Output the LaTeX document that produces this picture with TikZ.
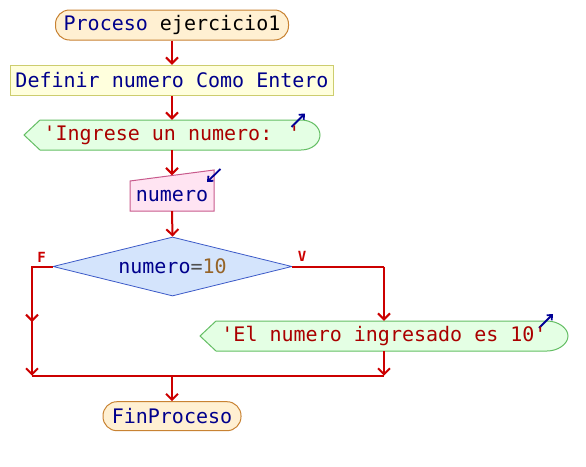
\documentclass[tikz,border=0pt]{standalone}
\usepackage{fontspec}
\newfontfamily\dmono{DejaVu Sans Mono}
\usetikzlibrary{arrows.meta,shapes.geometric}
\definecolor{navytxt}{RGB}{0,0,140}
\definecolor{strtxt}{RGB}{170,0,0}
\definecolor{numtxt}{RGB}{150,100,40}
\definecolor{optxt}{RGB}{80,80,80}
\definecolor{arrred}{RGB}{204,0,0}
\definecolor{startfill}{RGB}{255,240,210}
\definecolor{startline}{RGB}{200,130,50}
\definecolor{deffill}{RGB}{255,255,221}
\definecolor{defline}{RGB}{205,205,110}
\definecolor{outfill}{RGB}{228,255,228}
\definecolor{outline}{RGB}{100,190,100}
\definecolor{infill}{RGB}{255,228,242}
\definecolor{inline}{RGB}{200,90,140}
\definecolor{decfill}{RGB}{212,228,252}
\definecolor{decline}{RGB}{60,90,200}
\definecolor{ioarrow}{RGB}{0,0,150}
\tikzset{
  txt/.style={font=\dmono\fontsize{20}{24}\selectfont, inner sep=0pt},
  startbox/.style={txt, draw=startline, fill=startfill, line width=1pt, rounded corners=14pt},
  defbox/.style={txt, draw=defline, fill=deffill, line width=1pt},
  plain/.style={txt, draw=none},
  decbox/.style={txt, shape=diamond, draw=decline, fill=decfill, line width=0.8pt, minimum width=239pt, minimum height=59pt, aspect=4},
  outshape/.style={draw=outline, fill=outfill, line width=1pt},
  inshape/.style={draw=inline, fill=infill, line width=1pt},
  flow/.style={draw=arrred, line width=2pt},
  arr/.style={flow, -{Straight Barb[length=6pt,width=12pt]}},
  ioarr/.style={draw=ioarrow, line width=1.8pt, -{Straight Barb[length=4pt,width=7pt]}},
  lab/.style={font=\dmono\bfseries\fontsize{14}{16}\selectfont, text=arrred, inner sep=0pt},
}
\begin{document}
\begin{tikzpicture}[x=1pt,y=-1pt]
\useasboundingbox (0,0) rectangle (586,466);
% shapes drawn directly
\path[outshape] (24,135) -- (40,120) -- (301,120) .. controls (312,120) and (320,127) .. (320,135) .. controls (320,143) and (312,150) .. (301,150) -- (40,150) -- cycle;
\path[inshape] (130,181) -- (214,170) -- (214,211) -- (130,211) -- cycle;
\path[outshape] (200,336) -- (216,321) -- (547,321) .. controls (558,321) and (568,328) .. (568,336) .. controls (568,344) and (558,351) .. (547,351) -- (216,351) -- cycle;
% io markers
\draw[ioarr] (291.5,127) -- (305,113.5);
\draw[ioarr] (220.5,169) -- (207,182);
\draw[ioarr] (539,328) -- (553,314);
% nodes
\node[startbox, minimum width=233pt, minimum height=30pt] (start) at (172,25) {\textcolor{navytxt}{Proceso} ejercicio1};
\node[defbox, minimum width=323pt, minimum height=30pt, text=navytxt] (def) at (172,80.3) {Definir numero Como Entero};
\node[plain, minimum width=296pt, minimum height=30pt, text=strtxt] (out1) at (172,135) {'Ingrese un numero: '};
\node[plain, minimum width=84pt, minimum height=30pt, text=navytxt] (inp) at (172,196) {numero};
\node[decbox] (dec) at (172.5,266.5) {\textcolor{navytxt}{numero}\textcolor{optxt}{=}\textcolor{numtxt}{10}};
\node[plain, minimum width=368pt, minimum height=30pt, text=strtxt] (out2) at (384,336) {'El numero ingresado es 10'};
\node[startbox, minimum width=138pt, minimum height=29pt, text=navytxt] (fin) at (172,416.2) {FinProceso};
\node[lab] (lf) at (41.5,257) {F};
\node[lab] (lv) at (302,256.5) {V};
% connector points
\coordinate (lt) at (32,266.5);
\coordinate (lm) at (32,322);
\coordinate (lb) at (32,375.7);
\coordinate (rt) at (384,266.5);
\coordinate (rb) at (384,375.7);
\coordinate (mc) at (172,375.7);
% connectors
\draw[arr] (start.south) -- (def.north);
\draw[arr] (def.south) -- (out1.north);
\draw[arr] (out1.south) -- ([yshift=5.5pt]inp.north);
\draw[arr] (inp.south) -- (dec.north);
\draw[flow] (dec.west) -- (lt) -- (lm);
\draw[arr] (lt) -- (lm);
\draw[arr] (lm) -- (lb);
\draw[flow] (dec.east) -- (rt);
\draw[arr] (rt) -- (out2.north);
\draw[arr] (out2.south) -- (rb);
\draw[flow] (lb) -- (rb);
\draw[arr] (mc) -- (fin.north);
\end{tikzpicture}
\end{document}
